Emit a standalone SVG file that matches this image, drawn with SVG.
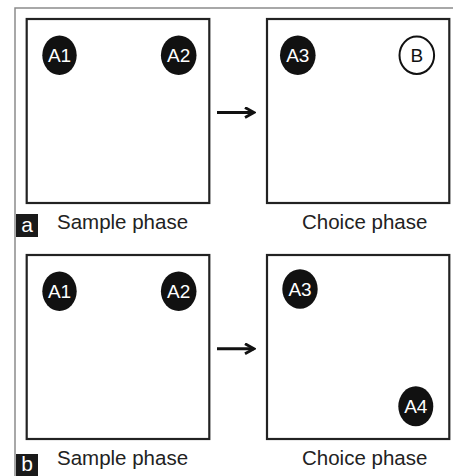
<svg xmlns="http://www.w3.org/2000/svg" width="453" height="476" viewBox="0 0 453 476">
<defs>
<style>
.frame{fill:none;stroke:#8c8c8c;stroke-width:1.5}
.box{fill:#fff;stroke:#222;stroke-width:2.2}
.obj{fill:#111}
.objw{fill:#fff;stroke:#111;stroke-width:2}
.ot{font-family:"Liberation Sans",Arial,sans-serif;font-size:19px;fill:#fff;text-anchor:middle}
.otb{font-family:"Liberation Sans",Arial,sans-serif;font-size:19px;fill:#111;text-anchor:middle}
.cap{font-family:"Liberation Sans",Arial,sans-serif;font-size:20.5px;fill:#222}
.tag{fill:#1a1a1a}
.tagt{font-family:"Liberation Sans",Arial,sans-serif;font-size:21px;fill:#fff;text-anchor:middle}
.arr{fill:none;stroke:#111;stroke-width:3}
</style>
<marker id="ah" viewBox="0 0 12 12" refX="10" refY="6" markerWidth="12" markerHeight="12" markerUnits="userSpaceOnUse" orient="auto">
<path d="M1,1 L10,6 L1,11" fill="none" stroke="#111" stroke-width="2.8"/>
</marker>
</defs>
<rect width="453" height="476" fill="#fff"/>
<path class="frame" d="M15,476 V8 H453"/>

<g id="panel-a-sample">
<rect class="box" x="26.7" y="19" width="182.6" height="184"/>
</g>
<g id="a-A1"><ellipse class="obj" cx="59.5" cy="55.3" rx="17.2" ry="19.7"/><text class="ot" x="59.5" y="62">A1</text></g>
<g id="a-A2"><ellipse class="obj" cx="178.7" cy="55.3" rx="17.8" ry="19.7"/><text class="ot" x="178.7" y="62">A2</text></g>
<g id="panel-a-choice">
<rect class="box" x="267" y="19" width="182.3" height="184"/>
</g>
<g id="a-A3"><ellipse class="obj" cx="297.8" cy="55.3" rx="17.8" ry="19.7"/><text class="ot" x="297.8" y="62">A3</text></g>
<g id="a-B"><ellipse class="objw" cx="416.8" cy="55.3" rx="17.3" ry="18.7"/><text class="otb" x="416.8" y="62">B</text></g>
<g id="label-a">
<rect class="tag" x="16" y="214" width="22" height="23"/>
<text class="tagt" x="27" y="232">a</text>
<text class="cap" x="57" y="229">Sample phase</text>
<text class="cap" x="302" y="229">Choice phase</text>
</g>

<g id="panel-b-sample">
<rect class="box" x="26.7" y="255" width="182.6" height="184"/>
</g>
<g id="b-A1"><ellipse class="obj" cx="59.5" cy="291.3" rx="17.2" ry="19.7"/><text class="ot" x="59.5" y="298">A1</text></g>
<g id="b-A2"><ellipse class="obj" cx="178.7" cy="291.3" rx="17.8" ry="19.7"/><text class="ot" x="178.7" y="298">A2</text></g>
<g id="panel-b-choice">
<rect class="box" x="267" y="255" width="182.3" height="184"/>
</g>
<g id="b-A3"><ellipse class="obj" cx="300" cy="289" rx="17.7" ry="19.7"/><text class="ot" x="300" y="295.7">A3</text></g>
<g id="b-A4"><ellipse class="obj" cx="415.8" cy="406.3" rx="17.5" ry="20"/><text class="ot" x="415.8" y="413">A4</text></g>
<g id="label-b">
<rect class="tag" x="16" y="454" width="22" height="22"/>
<text class="tagt" x="27" y="471">b</text>
<text class="cap" x="57" y="465">Sample phase</text>
<text class="cap" x="302" y="465">Choice phase</text>
</g>

<g id="connectors">
<line class="arr" x1="217" y1="112.5" x2="254" y2="112.5" marker-end="url(#ah)"/>
<line class="arr" x1="217" y1="348.7" x2="254" y2="348.7" marker-end="url(#ah)"/>
</g>
</svg>
